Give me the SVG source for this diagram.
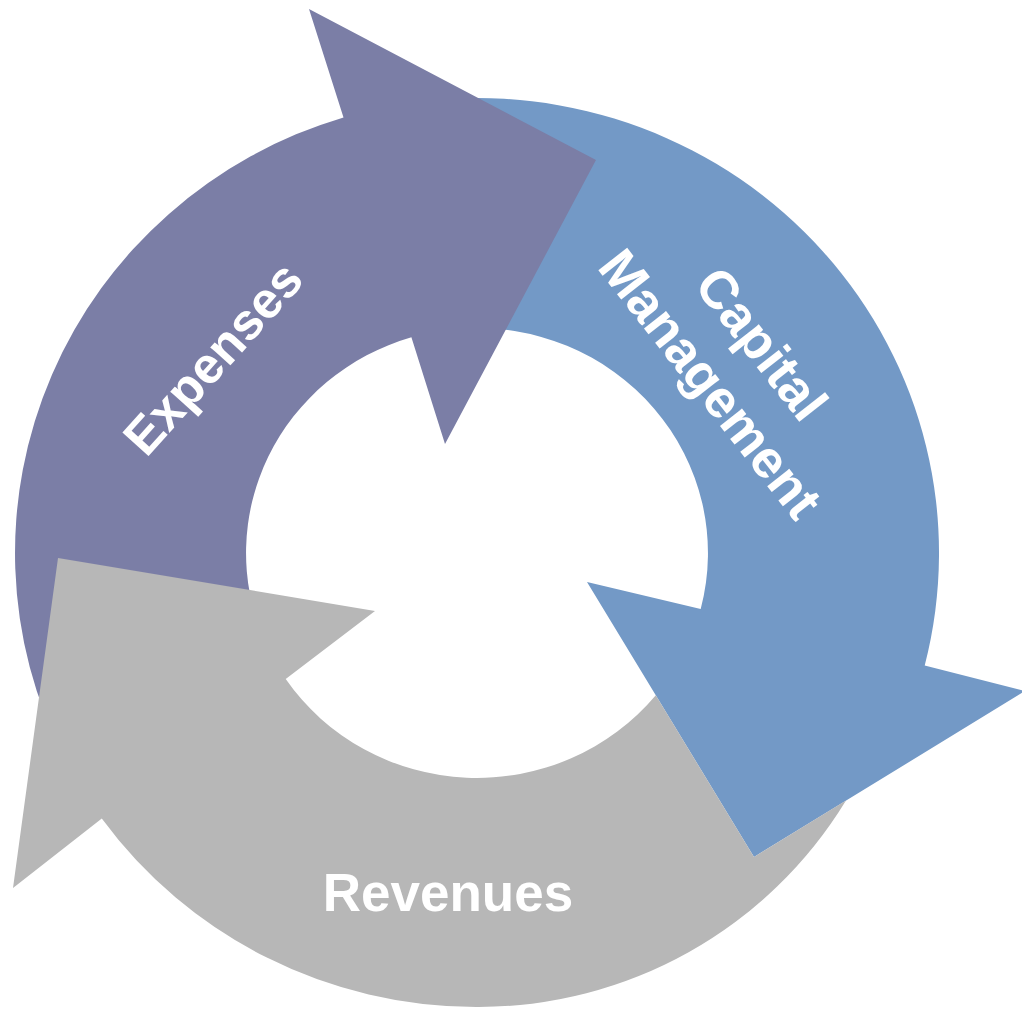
<svg xmlns="http://www.w3.org/2000/svg" width="1022" height="1010" viewBox="0 0 1022 1010">
<style>
.lbl{font-family:"Liberation Sans",Arial,Helvetica,sans-serif;font-weight:bold;font-size:53px;fill:#ffffff;text-anchor:middle}
.exp{fill:#7B7EA6}
.cap{fill:#7399C6}
.rev{fill:#B7B7B7}
</style>
<rect width="1022" height="1010" fill="#ffffff"/>
<g id="capital-management">
<path class="cap" d="M420,101.5 A462,455 0 0 1 924.7,665.4 L1025,691 L754,857 L587,582 L700.7,609 A231,225 0 0 0 460,328.6 Z"/>
<text class="lbl" transform="translate(737,363) rotate(52)"><tspan x="0" y="-13">Capital</tspan><tspan x="0" y="52">Management</tspan></text>
</g>
<g id="expenses">
<path class="exp" d="M65.6,760 A462,455 0 0 1 343.5,117.4 L309,9 L596,160 L445,444 L411.4,337.3 A231,225 0 0 0 264,640 Z"/>
<text class="lbl" transform="translate(226,370) rotate(-48)" x="0" y="0" style="font-size:51px">Expenses</text>
</g>
<g id="revenues">
<path class="rev" d="M846,800.6 L754,857 L655.8,695.3 A231,225 0 0 1 285.7,679.1 L375,611 L58,558 L13,888 L101.8,818.5 A462,455 0 0 0 477,1007 A430,430 0 0 0 846,800.6 Z"/>
<text class="lbl" x="448" y="911">Revenues</text>
</g>
</svg>
